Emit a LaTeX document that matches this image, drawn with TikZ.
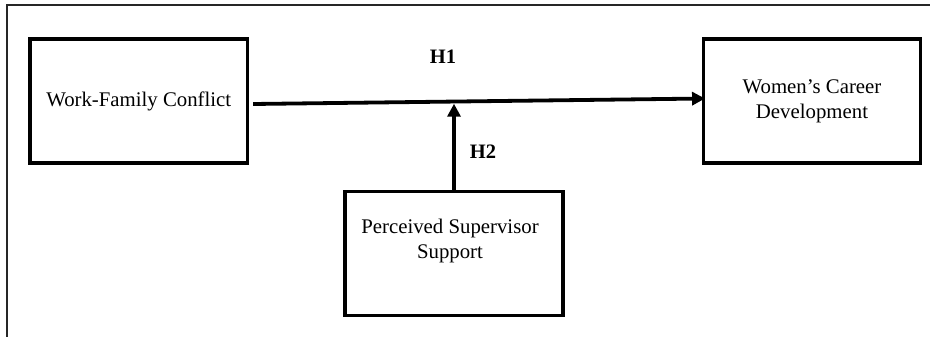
\documentclass[tikz,border=0pt]{standalone}
\usepackage{fontspec}
\setmainfont{Liberation Serif}
\usetikzlibrary{arrows.meta,calc}
\begin{document}
\begin{tikzpicture}[x=1pt,y=-1pt,
  box/.style={draw=black,line width=3.4pt,inner sep=0pt,align=center,
    font=\fontsize{20.8}{25}\selectfont},
  arrowline/.style={line width=3.8pt,-{Triangle[length=13pt,width=13pt]}},
  hlabel/.style={font=\fontsize{20.5}{24}\selectfont\bfseries},
  frame/.style={line width=1.6pt,draw=black!85}]
\useasboundingbox (0,0) rectangle (930,337);
\draw[frame] (7,337) -- (7,5) -- (930,5);
\node[box,minimum width=217.5pt,minimum height=124pt] (wfc) at (138.75,101) {Work-Family Conflict};
\node[box,minimum width=216.5pt,minimum height=124pt] (wcd) at (812,101) {Women’s Career\\Development};
\node[box,minimum width=218pt,minimum height=123.6pt,
  label={[align=center,yshift=12.5pt,xshift=-4pt,font=\fontsize{20.8}{25}\selectfont]center:Perceived Supervisor\\Support}] (pss) at (454,253.5) {};
\coordinate (h1s) at ([xshift=4pt,yshift=-3pt]wfc.east);
\coordinate (h1e) at ([xshift=3pt,yshift=2.5pt]wcd.west);
\draw[arrowline] (h1s) -- (h1e);
\coordinate (h1m) at ($(h1s)!0.45!(h1e)$);
\draw[arrowline,shorten >=2.2pt] (pss.north) -- (pss.north |- h1m);
\node[hlabel] (h1) at (443,57) {H1};
\node[hlabel] (h2) at (483,152) {H2};
\end{tikzpicture}
\end{document}
